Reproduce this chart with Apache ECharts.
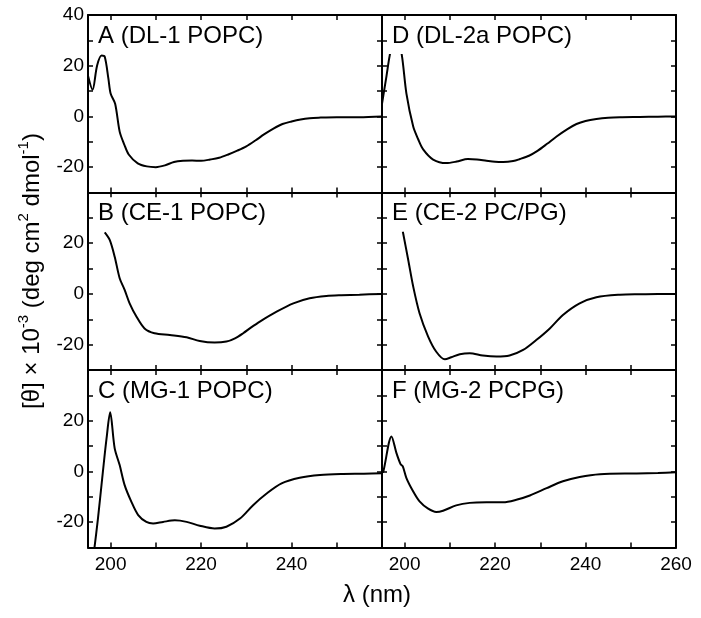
<!DOCTYPE html>
<html>
<head>
<meta charset="utf-8">
<script src="https://cdn.jsdelivr.net/npm/echarts@6/dist/echarts.min.js"></script>
<style>
html,body{margin:0;padding:0;background:#fff;}
#chart{width:701px;height:618px;}
</style>
</head>
<body>
<div id="chart"></div>
<script>
// ---- data (wavelength in nm, ellipticity [θ]×10^-3) ----
const panelLabels = ['A (DL-1 POPC)', 'B (CE-1 POPC)', 'C (MG-1 POPC)', 'D (DL-2a POPC)', 'E (CE-2 PC/PG)', 'F (MG-2 PCPG)'];

const waveA = [195, 196, 197, 198, 198.7, 199.5, 200, 201, 202, 203, 204, 206, 208, 210, 212, 214, 216, 218, 220, 222, 224, 226, 228, 230, 232, 234, 236, 238, 240, 242, 244, 246, 250, 255, 260];
const cdA   = [16, 10.5, 20, 24, 23.5, 15, 9, 5, -6, -11, -15, -18.5, -19.7, -20, -19.3, -18, -17.5, -17.4, -17.5, -17, -16.3, -15, -13.5, -11.8, -9.5, -7, -4.8, -3, -2, -1.2, -0.7, -0.5, -0.3, -0.3, 0];

const waveB = [198.7, 199.8, 200.9, 202, 203.1, 204.2, 205.7, 207.5, 209.7, 213.1, 216.8, 219.7, 223, 225.6, 227.5, 229.3, 231, 233, 236.7, 240.4, 244, 247.7, 251, 255, 260];
const cdB   = [24.3, 21.3, 14.7, 6.2, 1.6, -3.7, -8.9, -13.6, -15.5, -16.2, -17.1, -18.6, -19.2, -18.8, -17.5, -15.5, -13.3, -10.9, -7, -3.7, -1.7, -0.8, -0.5, -0.3, 0];

const waveC = [196.3, 197.2, 198.3, 199.1, 199.9, 200.9, 202, 203.1, 204.6, 206.1, 207.9, 209.4, 211.6, 214.2, 216.8, 219.7, 223, 225.6, 228.6, 231.5, 234.5, 237.8, 241.8, 246.3, 251.4, 256, 260];
const cdC   = [-32, -18.6, 0, 13, 23.3, 9.1, 2.5, -5.4, -12, -17.2, -19.9, -20.5, -19.9, -19.3, -19.9, -21.4, -22.5, -21.8, -18.6, -13.3, -8.7, -4.7, -2.5, -1.4, -1, -0.9, -0.7];

const waveD = [195, 196, 196.7, 198.1, 199.4, 200.4, 201.9, 203, 204.1, 206.3, 209.2, 211.5, 214, 216, 218.1, 220, 221.8, 224, 225.5, 227.5, 229.2, 231.5, 233.6, 236, 238, 240, 242.4, 245, 247.6, 252, 256, 260];
const cdD   = [5, 16, 24, 35, 24, 9, -4, -9, -13, -17, -18.4, -17.8, -16.8, -17, -17.5, -17.9, -18, -17.6, -16.8, -15.5, -13.8, -10.8, -7.9, -5, -3, -1.8, -1, -0.5, -0.3, -0.2, -0.1, 0];

const waveE = [199.6, 200.8, 201.9, 203.3, 205.2, 207, 208.9, 210.3, 212.2, 214.4, 217.3, 220.3, 223.2, 226.2, 229.1, 232.1, 235, 238.7, 242.4, 247.6, 252, 256, 260];
const cdE   = [24.6, 13.4, 2.9, -7.6, -16.8, -22.8, -25.8, -25, -23.8, -23.4, -24.3, -24.7, -24.3, -22.1, -18.2, -13.6, -8.3, -3.7, -1.3, -0.3, -0.1, 0, 0];

const waveF = [195, 195.3, 197.1, 198.2, 199.1, 199.6, 200.4, 201.9, 203.3, 205.2, 207, 208.5, 211.4, 214.4, 218.1, 221.8, 224.7, 227.7, 231.4, 235, 238.7, 243.2, 251.3, 256, 260];
const cdF   = [-0.5, 0, 13.8, 7.2, 2.9, 2, -2.6, -7.9, -11.8, -14.7, -16, -15.5, -13.4, -12.4, -12.2, -12.2, -11.2, -9.5, -6.6, -3.9, -2.2, -1.1, -0.8, -0.6, -0.3];

const xTicks = [200, 210, 220, 230, 240, 250, 260];
const xLabelsLeft = [200, 220, 240];
const xLabelsRight = [200, 220, 240, 260];
const yTicks = [-20, -10, 0, 10, 20, 30];
const yLabelsTop = [-20, 0, 20, 40];
const yLabels = [-20, 0, 20];

// ---- layout ----
const FONT = 'Liberation Sans, Arial, Helvetica, sans-serif';
const colLeft = [88, 382];
const colWidth = 294;
const rowTop = [15, 192.5, 370];
const rowHeight = 177.5;

const panels = [
  {w: waveA, v: cdA, col: 0, row: 0},
  {w: waveB, v: cdB, col: 0, row: 1},
  {w: waveC, v: cdC, col: 0, row: 2},
  {w: waveD, v: cdD, col: 1, row: 0},
  {w: waveE, v: cdE, col: 1, row: 1},
  {w: waveF, v: cdF, col: 1, row: 2}
];

const grid = [], xAxis = [], yAxis = [], series = [], title = [];
const axisLine = {show: true, onZero: false, lineStyle: {color: '#000', width: 2}};
const tickStyle = {color: '#000', width: 1.5};

panels.forEach((p, i) => {
  grid.push({left: colLeft[p.col], top: rowTop[p.row], width: colWidth, height: rowHeight, containLabel: false});
  const showX = p.row === 2;
  xAxis.push({
    gridIndex: i, type: 'value', position: 'bottom', min: 195, max: 260,
    axisLine: axisLine, splitLine: {show: false},
    axisTick: {show: true, inside: true, length: 5, lineStyle: tickStyle, customValues: xTicks},
    axisLabel: {show: showX, customValues: p.col === 0 ? xLabelsLeft : xLabelsRight,
      color: '#000', fontSize: 19, fontFamily: FONT, margin: 8}
  });
  xAxis.push({
    gridIndex: i, type: 'value', position: 'top', min: 195, max: 260,
    axisLine: axisLine, splitLine: {show: false},
    axisTick: {show: true, inside: true, length: 5, lineStyle: tickStyle, customValues: xTicks},
    axisLabel: {show: false}
  });
  yAxis.push({
    gridIndex: i, type: 'value', position: 'left', min: -30, max: 40,
    axisLine: axisLine, splitLine: {show: false},
    axisTick: {show: true, inside: true, length: 5, lineStyle: tickStyle, customValues: yTicks},
    axisLabel: {show: p.col === 0, customValues: (p.row === 0 ? yLabelsTop : yLabels),
      color: '#000', fontSize: 19, fontFamily: FONT, margin: 4}
  });
  yAxis.push({
    gridIndex: i, type: 'value', position: 'right', min: -30, max: 40,
    axisLine: axisLine, splitLine: {show: false},
    axisTick: {show: true, inside: true, length: 5, lineStyle: tickStyle, customValues: yTicks},
    axisLabel: {show: false}
  });
  series.push({
    type: 'line', xAxisIndex: 2 * i, yAxisIndex: 2 * i,
    data: p.w.map((x, k) => [x, p.v[k]]),
    showSymbol: false, smooth: 0.3, clip: true,
    lineStyle: {color: '#000', width: 2}, silent: true
  });
  title.push({
    text: panelLabels[i],
    left: colLeft[p.col] + 6, top: rowTop[p.row] + 5,
    padding: [4, 4, 6, 4], backgroundColor: '#fff',
    textStyle: {fontSize: 24, fontWeight: 'normal', color: '#000', fontFamily: FONT}
  });
});

const chart = echarts.init(document.getElementById('chart'), null, {renderer: 'canvas'});
chart.setOption({
  backgroundColor: '#fff',
  animation: false,
  title: title,
  grid: grid, xAxis: xAxis, yAxis: yAxis, series: series,
  graphic: [
    {
      type: 'text', z: 100, x: 32, y: 271, rotation: Math.PI / 2,
      style: {
        text: '{n|[θ] × 10}{s|-3}{n| (deg cm}{s|2}{n| dmol}{s|-1}{n|)}',
        align: 'center', verticalAlign: 'middle',
        rich: {
          n: {fontSize: 24, fontFamily: FONT, color: '#000', lineHeight: 32, verticalAlign: 'middle'},
          s: {fontSize: 15, fontFamily: FONT, color: '#000', lineHeight: 16, verticalAlign: 'top'}
        }
      }
    },
    {
      type: 'text', z: 100, x: 377, y: 595,
      style: {text: 'λ (nm)', fontSize: 24, fontFamily: FONT, fill: '#000', align: 'center', verticalAlign: 'middle'}
    }
  ]
});
</script>
</body>
</html>
